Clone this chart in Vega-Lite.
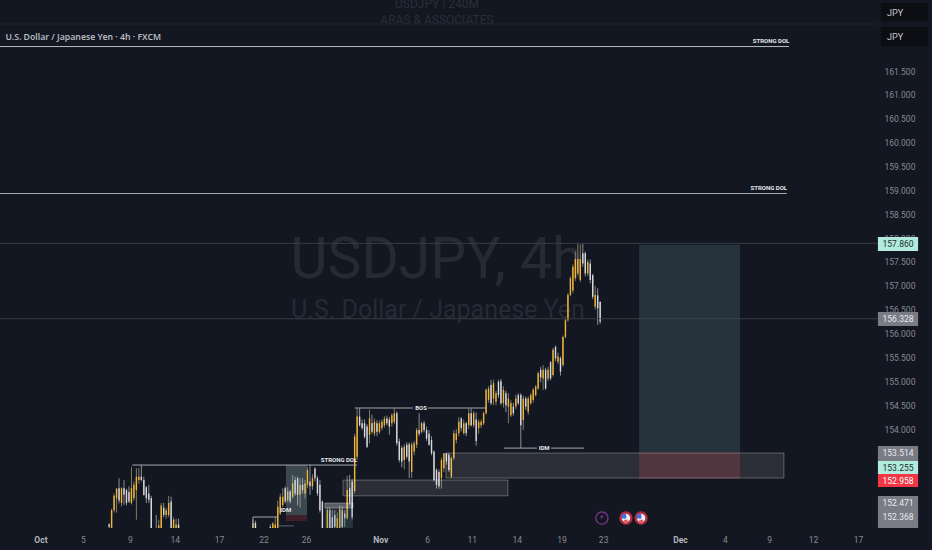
{
  "$schema": "https://vega.github.io/schema/vega-lite/v6.json",
  "description": "USD/JPY 4h candlesticks with supply and demand zones and a long position",
  "width": 878,
  "height": 528,
  "padding": {"left": 0, "top": 0, "right": 54, "bottom": 22},
  "autosize": "none",
  "background": "#131721",
  "config": {"view": {"stroke": null}, "font": "Roboto"},
  "datasets": {
    "candles": [
      {"b":44,"o":152.0,"h":152.03,"l":151.9,"c":151.95},
      {"b":45,"o":151.8,"h":152.33,"l":151.8,"c":152.3},
      {"b":46,"o":152.3,"h":152.65,"l":152.25,"c":152.6},
      {"b":47,"o":152.55,"h":152.76,"l":152.25,"c":152.75},
      {"b":48,"o":152.76,"h":152.97,"l":152.44,"c":152.5},
      {"b":49,"o":152.45,"h":152.78,"l":152.38,"c":152.76},
      {"b":50,"o":152.76,"h":152.93,"l":152.41,"c":152.62},
      {"b":51,"o":152.72,"h":152.75,"l":152.4,"c":152.45},
      {"b":52,"o":152.68,"h":152.8,"l":152.45,"c":152.48},
      {"b":53,"o":152.45,"h":153.21,"l":152.42,"c":152.76},
      {"b":54,"o":152.55,"h":152.9,"l":152.5,"c":152.83},
      {"b":55,"o":152.72,"h":153.18,"l":152.1,"c":153.0},
      {"b":56,"o":152.93,"h":153.18,"l":152.85,"c":153.0},
      {"b":57,"o":153.0,"h":153.25,"l":152.9,"c":152.93},
      {"b":58,"o":152.93,"h":153.0,"l":152.6,"c":152.62},
      {"b":59,"o":152.78,"h":152.8,"l":152.45,"c":152.55},
      {"b":60,"o":152.65,"h":152.83,"l":152.45,"c":152.52},
      {"b":61,"o":152.55,"h":152.6,"l":151.8,"c":151.85},
      {"b":63,"o":151.9,"h":152.2,"l":151.8,"c":151.85},
      {"b":64,"o":151.8,"h":152.1,"l":151.75,"c":151.98},
      {"b":65,"o":151.9,"h":152.45,"l":151.85,"c":152.4},
      {"b":66,"o":152.35,"h":152.45,"l":152.15,"c":152.2},
      {"b":67,"o":152.2,"h":152.35,"l":152.12,"c":152.3},
      {"b":68,"o":152.2,"h":152.6,"l":152.15,"c":152.45},
      {"b":69,"o":152.48,"h":152.58,"l":151.85,"c":151.9},
      {"b":70,"o":151.9,"h":152.15,"l":151.85,"c":152.1},
      {"b":71,"o":151.88,"h":152.12,"l":151.85,"c":152.0},
      {"b":72,"o":152.0,"h":152.12,"l":151.85,"c":151.9},
      {"b":102,"o":151.9,"h":152.1,"l":151.85,"c":152.03},
      {"b":103,"o":152.03,"h":152.08,"l":151.85,"c":151.9},
      {"b":109,"o":151.95,"h":152.0,"l":151.85,"c":151.92},
      {"b":110,"o":151.85,"h":152.05,"l":151.85,"c":152.02},
      {"b":111,"o":151.9,"h":152.15,"l":151.85,"c":152.0},
      {"b":112,"o":151.9,"h":152.5,"l":151.85,"c":152.37},
      {"b":113,"o":152.23,"h":152.65,"l":152.2,"c":152.58},
      {"b":114,"o":152.41,"h":152.76,"l":152.36,"c":152.58},
      {"b":115,"o":152.76,"h":152.8,"l":152.44,"c":152.48},
      {"b":116,"o":152.51,"h":152.78,"l":152.46,"c":152.69},
      {"b":117,"o":152.69,"h":152.72,"l":152.44,"c":152.48},
      {"b":118,"o":152.58,"h":153.04,"l":152.54,"c":152.86},
      {"b":119,"o":152.93,"h":153.0,"l":152.6,"c":152.65},
      {"b":120,"o":152.97,"h":153.0,"l":152.4,"c":152.62},
      {"b":121,"o":152.62,"h":152.97,"l":152.35,"c":152.83},
      {"b":122,"o":152.83,"h":152.97,"l":152.65,"c":152.72},
      {"b":123,"o":152.65,"h":152.93,"l":152.55,"c":152.86},
      {"b":124,"o":152.83,"h":153.2,"l":152.76,"c":153.14},
      {"b":125,"o":152.9,"h":153.25,"l":152.62,"c":152.8},
      {"b":126,"o":152.8,"h":153.05,"l":152.72,"c":152.97},
      {"b":127,"o":153.17,"h":153.2,"l":152.9,"c":152.97},
      {"b":128,"o":152.97,"h":153.02,"l":152.6,"c":152.65},
      {"b":129,"o":152.83,"h":152.93,"l":152.25,"c":152.3},
      {"b":130,"o":152.48,"h":152.5,"l":151.85,"c":151.92},
      {"b":132,"o":151.9,"h":152.35,"l":151.85,"c":152.3},
      {"b":133,"o":152.3,"h":152.35,"l":151.85,"c":151.92},
      {"b":134,"o":152.15,"h":152.3,"l":151.85,"c":151.92},
      {"b":135,"o":152.2,"h":152.3,"l":151.85,"c":151.95},
      {"b":136,"o":151.92,"h":152.25,"l":151.85,"c":152.13},
      {"b":137,"o":151.92,"h":152.4,"l":151.9,"c":152.33},
      {"b":138,"o":152.3,"h":152.38,"l":151.9,"c":151.95},
      {"b":139,"o":152.23,"h":152.3,"l":151.95,"c":152.13},
      {"b":140,"o":152.13,"h":153.02,"l":152.1,"c":152.72},
      {"b":141,"o":152.76,"h":153.04,"l":152.4,"c":152.45},
      {"b":142,"o":152.9,"h":152.95,"l":152.1,"c":152.15},
      {"b":143,"o":152.7,"h":153.9,"l":152.65,"c":153.84},
      {"b":144,"o":153.42,"h":154.43,"l":153.35,"c":154.26},
      {"b":145,"o":154.26,"h":154.43,"l":154.05,"c":154.08},
      {"b":146,"o":154.12,"h":154.2,"l":153.98,"c":154.02},
      {"b":147,"o":154.12,"h":154.2,"l":153.8,"c":153.84},
      {"b":148,"o":154.05,"h":154.1,"l":153.6,"c":153.63},
      {"b":149,"o":153.88,"h":154.4,"l":153.7,"c":154.22},
      {"b":150,"o":154.12,"h":154.3,"l":153.9,"c":153.94},
      {"b":151,"o":153.91,"h":154.22,"l":153.85,"c":154.15},
      {"b":152,"o":154.12,"h":154.18,"l":153.85,"c":153.94},
      {"b":153,"o":153.94,"h":154.18,"l":153.9,"c":154.12},
      {"b":154,"o":154.02,"h":154.2,"l":153.97,"c":154.15},
      {"b":155,"o":154.08,"h":154.27,"l":154.03,"c":154.22},
      {"b":156,"o":154.22,"h":154.28,"l":154.08,"c":154.12},
      {"b":157,"o":154.2,"h":154.25,"l":153.88,"c":154.05},
      {"b":158,"o":154.12,"h":154.33,"l":154.05,"c":154.29},
      {"b":159,"o":154.15,"h":154.43,"l":154.1,"c":154.33},
      {"b":160,"o":154.33,"h":154.37,"l":153.65,"c":153.7},
      {"b":161,"o":153.74,"h":153.8,"l":153.3,"c":153.35},
      {"b":162,"o":153.6,"h":153.65,"l":153.2,"c":153.32},
      {"b":163,"o":153.35,"h":153.68,"l":153.15,"c":153.63},
      {"b":164,"o":153.67,"h":153.72,"l":153.38,"c":153.42},
      {"b":165,"o":153.68,"h":153.72,"l":152.97,"c":153.32},
      {"b":166,"o":153.1,"h":153.72,"l":152.97,"c":153.67},
      {"b":167,"o":153.53,"h":153.75,"l":153.45,"c":153.7},
      {"b":168,"o":153.67,"h":154.02,"l":153.6,"c":153.98},
      {"b":169,"o":153.98,"h":154.33,"l":153.85,"c":153.9},
      {"b":170,"o":153.94,"h":154.15,"l":153.9,"c":154.12},
      {"b":171,"o":154.12,"h":154.17,"l":153.93,"c":153.98},
      {"b":172,"o":153.98,"h":154.05,"l":153.75,"c":153.8},
      {"b":173,"o":153.9,"h":153.98,"l":153.65,"c":153.67},
      {"b":174,"o":153.77,"h":153.85,"l":153.45,"c":153.49},
      {"b":175,"o":153.53,"h":153.55,"l":152.9,"c":152.93},
      {"b":176,"o":153.14,"h":153.18,"l":152.75,"c":152.83},
      {"b":177,"o":153.1,"h":153.15,"l":152.75,"c":152.8},
      {"b":178,"o":152.97,"h":153.4,"l":152.75,"c":153.35},
      {"b":179,"o":153.18,"h":153.5,"l":153.1,"c":153.49},
      {"b":180,"o":153.49,"h":153.5,"l":153.25,"c":153.32},
      {"b":181,"o":153.46,"h":153.5,"l":153.1,"c":153.14},
      {"b":182,"o":153.0,"h":153.42,"l":152.97,"c":153.39},
      {"b":183,"o":153.39,"h":153.98,"l":153.35,"c":153.91},
      {"b":184,"o":153.77,"h":154.0,"l":153.7,"c":153.91},
      {"b":185,"o":153.91,"h":154.25,"l":153.85,"c":154.15},
      {"b":186,"o":154.22,"h":154.25,"l":153.95,"c":154.02},
      {"b":187,"o":153.91,"h":154.2,"l":153.88,"c":154.12},
      {"b":188,"o":154.12,"h":154.15,"l":153.85,"c":153.91},
      {"b":189,"o":154.08,"h":154.43,"l":154.0,"c":154.33},
      {"b":190,"o":154.33,"h":154.43,"l":154.05,"c":154.08},
      {"b":191,"o":154.08,"h":154.38,"l":154.03,"c":154.33},
      {"b":192,"o":154.2,"h":154.35,"l":153.65,"c":153.75},
      {"b":193,"o":154.02,"h":154.2,"l":153.9,"c":154.15},
      {"b":194,"o":154.08,"h":154.2,"l":154.02,"c":154.15},
      {"b":195,"o":154.12,"h":154.36,"l":154.08,"c":154.33},
      {"b":196,"o":154.33,"h":154.85,"l":154.3,"c":154.82},
      {"b":197,"o":154.61,"h":154.9,"l":154.55,"c":154.85},
      {"b":198,"o":154.92,"h":155.03,"l":154.5,"c":154.54},
      {"b":199,"o":154.64,"h":155.03,"l":154.5,"c":154.96},
      {"b":200,"o":154.57,"h":154.8,"l":154.5,"c":154.75},
      {"b":201,"o":154.99,"h":155.03,"l":154.65,"c":154.71},
      {"b":202,"o":155.0,"h":155.05,"l":154.5,"c":154.54},
      {"b":203,"o":154.54,"h":154.9,"l":154.45,"c":154.82},
      {"b":204,"o":154.75,"h":154.8,"l":154.35,"c":154.5},
      {"b":205,"o":154.47,"h":154.75,"l":154.12,"c":154.64},
      {"b":206,"o":154.29,"h":154.6,"l":154.25,"c":154.54},
      {"b":207,"o":154.47,"h":154.55,"l":154.28,"c":154.33},
      {"b":208,"o":154.47,"h":154.72,"l":154.42,"c":154.64},
      {"b":209,"o":154.71,"h":154.75,"l":154.5,"c":154.54},
      {"b":210,"o":154.71,"h":154.75,"l":153.6,"c":154.08},
      {"b":211,"o":154.19,"h":154.7,"l":153.98,"c":154.64},
      {"b":212,"o":154.64,"h":154.68,"l":154.4,"c":154.47},
      {"b":213,"o":154.36,"h":154.68,"l":154.3,"c":154.64},
      {"b":214,"o":154.54,"h":154.75,"l":154.5,"c":154.71},
      {"b":215,"o":154.61,"h":154.86,"l":154.55,"c":154.82},
      {"b":216,"o":154.71,"h":154.92,"l":154.68,"c":154.89},
      {"b":217,"o":154.85,"h":155.2,"l":154.82,"c":155.17},
      {"b":218,"o":155.24,"h":155.3,"l":154.98,"c":155.08},
      {"b":219,"o":155.06,"h":155.34,"l":154.82,"c":155.24},
      {"b":220,"o":155.24,"h":155.28,"l":154.82,"c":154.85},
      {"b":221,"o":155.06,"h":155.3,"l":155.0,"c":155.24},
      {"b":222,"o":155.4,"h":155.42,"l":155.02,"c":155.06},
      {"b":223,"o":155.13,"h":155.7,"l":155.1,"c":155.66},
      {"b":224,"o":155.72,"h":155.75,"l":155.42,"c":155.48},
      {"b":225,"o":155.41,"h":155.6,"l":155.36,"c":155.52},
      {"b":226,"o":155.48,"h":155.52,"l":155.12,"c":155.2},
      {"b":227,"o":155.34,"h":155.96,"l":155.3,"c":155.93},
      {"b":228,"o":155.93,"h":156.32,"l":155.9,"c":156.28},
      {"b":229,"o":156.28,"h":156.85,"l":156.25,"c":156.81},
      {"b":230,"o":156.81,"h":157.2,"l":156.78,"c":157.16},
      {"b":231,"o":156.9,"h":157.45,"l":156.85,"c":157.4},
      {"b":232,"o":157.16,"h":157.72,"l":157.1,"c":157.56},
      {"b":233,"o":157.26,"h":157.88,"l":157.22,"c":157.56},
      {"b":234,"o":157.12,"h":157.86,"l":157.08,"c":157.56},
      {"b":235,"o":157.68,"h":157.88,"l":157.4,"c":157.47},
      {"b":236,"o":157.68,"h":157.72,"l":157.2,"c":157.26},
      {"b":237,"o":157.26,"h":157.55,"l":157.2,"c":157.5},
      {"b":238,"o":157.47,"h":157.55,"l":157.05,"c":157.12},
      {"b":239,"o":157.22,"h":157.25,"l":156.72,"c":156.77},
      {"b":240,"o":156.56,"h":157.0,"l":156.5,"c":156.81},
      {"b":241,"o":156.8,"h":156.95,"l":156.18,"c":156.53},
      {"b":242,"o":156.66,"h":156.68,"l":156.2,"c":156.25}
    ],
    "zones": [
      {"b":257.7,"b2":298.4,"p":157.86,"p2":153.514,"kind":"target"},
      {"b":257.7,"b2":298.4,"p":153.514,"p2":152.958,"kind":"stop"},
      {"b":179.8,"b2":316.1,"p":153.497,"p2":152.973,"kind":"box"},
      {"b":138.3,"b2":204.8,"p":152.93,"p2":152.6,"kind":"box"},
      {"b":131,"b2":142.3,"p":152.45,"p2":152.345,"kind":"boxLight"},
      {"b":131,"b2":142.3,"p":152.345,"p2":151.925,"kind":"target"},
      {"b":115.3,"b2":123.8,"p":153.245,"p2":152.2,"kind":"targetLight"},
      {"b":115.3,"b2":123.8,"p":152.2,"p2":152.07,"kind":"stop"}
    ],
    "lines": [
      {"b":0,"b2":354,"p":162.485,"p2":162.485,"kind":"divider"},
      {"b":0,"b2":318.1,"p":162.013,"p2":162.013,"kind":"level"},
      {"b":0,"b2":317.3,"p":158.934,"p2":158.934,"kind":"thin"},
      {"b":0,"b2":354,"p":157.89,"p2":157.89,"kind":"price"},
      {"b":0,"b2":354,"p":156.31,"p2":156.31,"kind":"price"},
      {"b":53.4,"b2":144,"p":153.245,"p2":153.245,"kind":"thin"},
      {"b":143.1,"b2":166.5,"p":154.44,"p2":154.44,"kind":"thin"},
      {"b":172.6,"b2":196,"p":154.44,"p2":154.44,"kind":"thin"},
      {"b":203.2,"b2":216.5,"p":153.6,"p2":153.6,"kind":"thin"},
      {"b":222.2,"b2":235.5,"p":153.6,"p2":153.6,"kind":"thin"},
      {"b":102,"b2":111.7,"p":152.156,"p2":152.156,"kind":"thin"},
      {"b":102,"b2":102,"p":152.156,"p2":151.926,"kind":"thin"},
      {"b":112,"b2":118.5,"p":151.97,"p2":151.97,"kind":"dim"}
    ],
    "notes": [
      {"b":310.9,"p":162.125,"label":"STRONG DOL"},
      {"b":310,"p":159.05,"label":"STRONG DOL"},
      {"b":136.7,"p":153.35,"label":"STRONG DOL"},
      {"b":169.8,"p":154.44,"label":"BOS"},
      {"b":219.4,"p":153.6,"label":"IDM"},
      {"b":115.2,"p":152.303,"label":"IDM"}
    ],
    "chips": [
      {"b":354,"b2":370.2,"p":158.022,"p2":157.729,"kind":"mint"},
      {"b":354,"b2":370.2,"p":156.451,"p2":156.158,"kind":"grey"},
      {"b":354,"b2":370.2,"p":153.644,"p2":153.33,"kind":"grey"},
      {"b":354,"b2":370.2,"p":153.33,"p2":153.057,"kind":"mint"},
      {"b":354,"b2":370.2,"p":153.057,"p2":152.785,"kind":"red"},
      {"b":354,"b2":370.2,"p":152.596,"p2":151.926,"kind":"grey"},
      {"b":355.2,"b2":374.2,"p":162.925,"p2":162.535,"kind":"button"},
      {"b":355.2,"b2":374.2,"p":162.42,"p2":162.02,"kind":"button"}
    ],
    "chipText": [
      {"b":362.1,"p":157.876,"label":"157.860","kind":"mint"},
      {"b":362.1,"p":156.305,"label":"156.328","kind":"grey"},
      {"b":362.1,"p":153.487,"label":"153.514","kind":"grey"},
      {"b":362.1,"p":153.193,"label":"153.255","kind":"mint"},
      {"b":362.1,"p":152.921,"label":"152.958","kind":"red"},
      {"b":362.1,"p":152.45,"label":"152.471","kind":"grey"},
      {"b":362.1,"p":152.163,"label":"152.368","kind":"grey"},
      {"b":362.1,"p":151.884,"label":"152.240","kind":"grey"}
    ],
    "flags": [
      {"b":252.4,"p":152.135},
      {"b":258.5,"p":152.135}
    ]
  },
  "encoding": {
    "x": {
      "field": "b",
      "type": "quantitative",
      "title": null,
      "scale": {"domain": [0, 354.03], "nice": false, "zero": false, "padding": 0},
      "axis": {
        "values": [16.3, 33.4, 52.4, 70.5, 88.3, 106.3, 123.4, 153.3, 172.2, 190.2, 208.4, 226.4, 243.2, 274.2, 292.3, 310.1, 327.8, 346],
        "labelExpr": "['Oct','5','9','14','17','22','26','Nov','6','11','14','19','23','Dec','4','9','12','17'][indexof([16.3,33.4,52.4,70.5,88.3,106.3,123.4,153.3,172.2,190.2,208.4,226.4,243.2,274.2,292.3,310.1,327.8,346],datum.value)]",
        "domain": false,
        "ticks": false,
        "grid": false,
        "labelPadding": 7,
        "labelFontSize": 8.5,
        "labelFont": "Roboto",
        "labelOverlap": false,
        "labelFlush": false,
        "labelColor": {"condition": {"test": "datum.value==16.3||datum.value==153.3||datum.value==274.2", "value": "#b2b5be"}, "value": "#868993"},
        "labelFontWeight": {"condition": {"test": "datum.value==16.3||datum.value==153.3||datum.value==274.2", "value": "bold"}, "value": "normal"}
      }
    },
    "y": {
      "field": "p",
      "type": "quantitative",
      "title": null,
      "scale": {"domain": [151.926, 162.988], "nice": false, "zero": false},
      "axis": {
        "orient": "right",
        "values": [161.5, 161, 160.5, 160, 159.5, 159, 158.5, 158, 157.5, 157, 156.5, 156, 155.5, 155, 154.5, 154],
        "format": ".3f",
        "domain": false,
        "ticks": false,
        "grid": false,
        "labelPadding": 6,
        "labelFontSize": 8.5,
        "labelFont": "Roboto",
        "labelColor": "#868993",
        "labelOverlap": false
      }
    }
  },
  "layer": [
    {
      "data": {"values": [
        {"b":176.2,"p":157.163,"label":"USDJPY, 4h"}
      ]},
      "mark": {"type": "text", "font": "Roboto", "fontSize": 57, "align": "center", "baseline": "alphabetic", "color": "#262a35"},
      "encoding": {"text": {"field": "label"}}
    },
    {
      "data": {"values": [
        {"b":176.6,"p":156.325,"label":"U.S. Dollar / Japanese Yen"}
      ]},
      "mark": {"type": "text", "font": "Roboto", "fontSize": 25, "align": "center", "baseline": "alphabetic", "color": "#262a35"},
      "encoding": {"text": {"field": "label"}}
    },
    {
      "data": {"values": [
        {"b":176.2,"p":162.9,"label":"USDJPY | 240M"},
        {"b":176.2,"p":162.57,"label":"ARAS & ASSOCIATES"}
      ]},
      "mark": {"type": "text", "font": "Roboto", "fontSize": 12, "align": "center", "baseline": "middle", "color": "#2a2e39"},
      "encoding": {"text": {"field": "label"}}
    },
    {
      "data": {"name": "candles"},
      "mark": {"type": "rule", "clip": true, "strokeWidth": 0.9},
      "encoding": {
        "y": {"field": "l", "type": "quantitative"},
        "y2": {"field": "h"},
        "color": {"condition": {"test": "datum.c >= datum.o", "value": "#8f8668"}, "value": "#9a9ca2"}
      }
    },
    {
      "data": {"name": "candles"},
      "mark": {"type": "bar", "clip": true, "size": 1.4, "orient": "vertical"},
      "encoding": {
        "y": {"field": "o", "type": "quantitative"},
        "y2": {"field": "c"},
        "color": {"condition": {"test": "datum.c >= datum.o", "value": "#f2b632"}, "value": "#d9dbe0"}
      }
    },
    {
      "data": {"name": "zones"},
      "mark": {"type": "rect", "strokeWidth": 1},
      "encoding": {
        "x2": {"field": "b2"},
        "y2": {"field": "p2"},
        "color": {
          "field": "kind",
          "legend": null,
          "scale": {
            "domain": ["target", "targetLight", "stop", "box", "boxLight"],
            "range": ["rgba(100,135,145,0.25)", "rgba(170,200,205,0.28)", "rgba(190,60,75,0.25)", "rgba(255,255,255,0.1)", "rgba(255,255,255,0.3)"]
          }
        },
        "stroke": {
          "field": "kind",
          "legend": null,
          "scale": {
            "domain": ["target", "targetLight", "stop", "box", "boxLight"],
            "range": ["rgba(0,0,0,0)", "rgba(0,0,0,0)", "rgba(0,0,0,0)", "rgba(255,255,255,0.28)", "rgba(255,255,255,0.3)"]
          }
        }
      }
    },
    {
      "data": {"name": "lines"},
      "mark": {"type": "rule", "clip": true, "strokeWidth": 0.9},
      "encoding": {
        "x2": {"field": "b2"},
        "y2": {"field": "p2"},
        "color": {
          "field": "kind",
          "legend": null,
          "scale": {
            "domain": ["level", "thin", "price", "divider", "dim"],
            "range": ["#c9ccd3", "#b4b7bf", "#3d414b", "#20242e", "#6a6d75"]
          }
        }
      }
    },
    {
      "data": {"name": "notes"},
      "mark": {"type": "text", "font": "Roboto", "fontSize": 6, "fontWeight": "bold", "align": "center", "baseline": "middle", "color": "#e4e6ea"},
      "encoding": {"text": {"field": "label"}}
    },
    {
      "data": {"values": [
        {"b":2.2,"p":162.21,"label":"U.S. Dollar / Japanese Yen · 4h · FXCM"}
      ]},
      "mark": {"type": "text", "font": "Noto Sans", "fontSize": 8.7, "fontWeight": 600, "align": "left", "baseline": "middle", "color": "#b4b7bf"},
      "encoding": {"text": {"field": "label"}}
    },
    {
      "data": {"values": [{"b":242.7,"p":152.135}]},
      "mark": {"type": "point", "filled": false, "size": 150, "strokeWidth": 1.3, "color": "#a846b8"},
      "encoding": {}
    },
    {
      "data": {"values": [{"b":242.7,"p":152.135,"label":"⚡"}]},
      "mark": {"type": "text", "font": "DejaVu Sans", "fontSize": 8, "align": "center", "baseline": "middle", "color": "#a846b8"},
      "encoding": {"text": {"field": "label"}}
    },
    {
      "data": {"name": "flags"},
      "mark": {"type": "point", "filled": true, "size": 120, "stroke": "#b42a3c", "strokeWidth": 2.4, "fill": "#eef0f4", "opacity": 1},
      "encoding": {}
    },
    {
      "data": {"values": [{"b":251.6,"p":152.17},{"b":257.7,"p":152.17}]},
      "mark": {"type": "point", "filled": true, "shape": "square", "size": 20, "color": "#3f6fd8", "opacity": 1},
      "encoding": {}
    },
    {
      "data": {"values": [{"b":252.4,"p":152.06},{"b":258.5,"p":152.06}]},
      "mark": {"type": "point", "filled": true, "shape": "square", "size": 14, "color": "#d9616c", "opacity": 1},
      "encoding": {}
    },
    {
      "data": {"name": "chipText"},
      "transform": [{"filter": "datum.label == '152.240'"}],
      "mark": {"type": "text", "font": "Roboto", "fontSize": 8.5, "align": "center", "baseline": "middle", "color": "#e8e9ec"},
      "encoding": {"text": {"field": "label"}}
    },
    {
      "data": {"values": [{"b":354,"b2":372,"p":151.926,"p2":151.7}]},
      "mark": {"type": "rect", "color": "#131721"},
      "encoding": {"x2": {"field": "b2"}, "y2": {"field": "p2"}}
    },
    {
      "data": {"name": "chips"},
      "mark": {"type": "rect"},
      "encoding": {
        "x2": {"field": "b2"},
        "y2": {"field": "p2"},
        "color": {
          "field": "kind",
          "legend": null,
          "scale": {
            "domain": ["mint", "grey", "red", "button"],
            "range": ["#b2ebdc", "#797c85", "#f23645", "#0c0e13"]
          }
        }
      }
    },
    {
      "data": {"name": "chipText"},
      "transform": [{"filter": "datum.label != '152.240'"}],
      "mark": {"type": "text", "font": "Roboto", "fontSize": 8.5, "align": "center", "baseline": "middle"},
      "encoding": {
        "text": {"field": "label"},
        "color": {
          "field": "kind",
          "legend": null,
          "scale": {"domain": ["mint", "grey", "red"], "range": ["#17302c", "#e8e9ec", "#ffffff"]}
        }
      }
    },
    {
      "data": {"values": [
        {"b":357.7,"p":162.725,"label":"JPY"},
        {"b":357.7,"p":162.222,"label":"JPY"}
      ]},
      "mark": {"type": "text", "font": "Roboto", "fontSize": 9, "align": "left", "baseline": "middle", "color": "#c6c8ce"},
      "encoding": {"text": {"field": "label"}}
    }
  ],
  "resolve": {"scale": {"color": "independent", "stroke": "independent"}}
}
